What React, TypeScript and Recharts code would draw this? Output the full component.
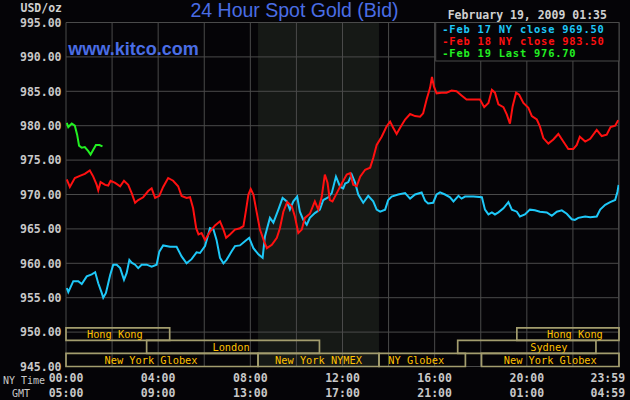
import React from 'react';
import { LineChart, Line, XAxis, YAxis, CartesianGrid, ReferenceArea } from 'recharts';

// minutes after 00:00 NY time, and bid price in USD/oz
const feb17Times = [
  2, 6, 19, 32, 41, 54, 67, 76, 84, 93, 97, 104, 110, 115, 123, 132, 141, 151, 158, 165,
  171, 180, 188, 197, 210, 223, 236, 243, 253, 271, 288, 301, 314, 327, 340, 349, 362, 375, 384, 392,
  401, 410, 418, 431, 440, 453, 466, 477, 488, 501, 512, 518, 531, 540, 553, 564, 575, 583, 592, 602,
  609, 618, 627, 635, 648, 661, 670, 683, 692, 703, 714, 722, 727, 735, 744, 753, 761, 774, 787, 800,
  809, 818, 831, 839, 848, 865, 883, 896, 909, 926, 935, 943, 956, 965, 974, 987, 1000, 1009, 1022, 1030,
  1039, 1061, 1083, 1091, 1100, 1109, 1117, 1126, 1139, 1152, 1161, 1174, 1182, 1195, 1208, 1221, 1234, 1252, 1265, 1278,
  1291, 1304, 1317, 1325, 1334, 1352, 1365, 1382, 1391, 1404, 1417, 1430, 1436, 1439,
];
const feb17Prices = [
  956.4, 955.8, 957.4, 957.4, 957.0, 958.1, 958.4, 958.7, 957.1, 955.7, 955.0, 955.7, 957.1, 958.3, 959.8, 959.8, 959.3, 957.6, 958.6, 960.5,
  960.1, 959.8, 959.3, 959.8, 959.8, 959.5, 959.8, 961.7, 962.6, 962.4, 962.4, 961.0, 960.0, 960.6, 961.6, 961.5, 962.5, 965.1, 964.9, 963.4,
  960.8, 960.0, 960.5, 961.7, 962.5, 962.6, 963.2, 963.7, 962.2, 961.3, 960.8, 963.9, 966.6, 965.9, 967.8, 969.5, 969.0, 967.8, 969.0, 969.7,
  967.5, 966.3, 965.6, 966.6, 967.3, 967.8, 969.2, 969.6, 970.2, 972.6, 971.1, 970.9, 971.6, 971.8, 972.9, 971.7, 970.0, 968.8, 969.8, 969.0,
  967.8, 967.5, 967.8, 969.2, 969.7, 970.0, 970.2, 969.4, 970.0, 970.3, 969.1, 968.7, 968.8, 970.0, 970.3, 970.0, 969.6, 969.0, 969.8, 969.4,
  969.7, 969.7, 969.6, 967.8, 967.1, 967.4, 967.1, 967.4, 968.0, 968.9, 967.8, 967.5, 966.8, 967.1, 967.8, 967.7, 967.5, 967.4, 966.9, 967.5,
  967.7, 967.2, 966.4, 966.3, 966.6, 966.8, 966.7, 966.8, 967.8, 968.5, 968.9, 969.2, 970.4, 971.4,
];

const feb18Times = [
  2, 10, 23, 36, 49, 62, 71, 80, 84, 90, 102, 110, 116, 128, 141, 151, 162, 171, 180, 188,
  201, 214, 223, 232, 243, 253, 266, 279, 292, 301, 314, 323, 331, 339, 345, 353, 362, 375, 388, 401,
  410, 417, 427, 440, 453, 462, 469, 475, 481, 488, 497, 505, 516, 523, 536, 549, 557, 566, 576, 588,
  596, 605, 614, 622, 635, 648, 657, 666, 674, 681, 687, 694, 705, 718, 731, 740, 748, 757, 766, 779,
  792, 800, 809, 822, 835, 844, 852, 861, 870, 883, 896, 909, 922, 930, 939, 948, 953, 958, 965, 978,
  991, 1004, 1017, 1030, 1043, 1061, 1078, 1089, 1100, 1109, 1117, 1126, 1139, 1148, 1156, 1163, 1172, 1180, 1191, 1204,
  1213, 1226, 1234, 1243, 1256, 1269, 1282, 1295, 1308, 1321, 1330, 1338, 1352, 1365, 1382, 1395, 1408, 1418, 1430, 1438,
];
const feb18Prices = [
  972.2, 971.1, 972.4, 972.7, 973.0, 973.5, 972.6, 971.4, 970.6, 971.8, 971.4, 971.3, 972.0, 971.7, 971.2, 972.0, 971.4, 970.2, 968.8, 969.2,
  969.6, 970.5, 970.9, 969.5, 969.8, 971.1, 972.4, 972.0, 971.2, 969.8, 969.5, 969.6, 968.0, 965.1, 964.2, 964.4, 963.4, 964.6, 965.5, 966.1,
  964.9, 963.7, 964.2, 964.9, 965.1, 965.4, 967.8, 970.0, 970.8, 970.0, 967.3, 964.9, 963.2, 962.2, 962.7, 963.7, 965.1, 967.5, 968.9, 968.3,
  966.8, 964.4, 964.9, 966.6, 967.2, 969.0, 967.8, 969.7, 972.9, 971.7, 969.2, 969.0, 970.2, 971.6, 972.9, 973.1, 971.4, 971.2, 972.6, 973.6,
  973.9, 975.3, 977.2, 978.4, 979.9, 980.6, 979.7, 978.8, 979.7, 980.9, 981.7, 981.4, 981.3, 981.8, 983.8, 985.5, 987.1, 985.7, 984.7, 984.8,
  984.8, 985.1, 985.0, 984.4, 983.8, 983.8, 983.8, 982.7, 983.3, 985.2, 984.8, 983.1, 982.7, 981.6, 980.3, 982.8, 984.8, 984.5, 983.3, 982.6,
  981.4, 980.9, 979.9, 978.2, 977.4, 978.0, 978.8, 977.7, 976.6, 976.6, 977.2, 978.4, 977.7, 978.1, 979.4, 978.5, 978.7, 979.8, 980.0, 980.8,
];

const feb19Times = [2, 6, 15, 23, 29, 34, 41, 49, 58, 64, 71, 78, 87, 95];
const feb19Prices = [980.4, 979.8, 980.3, 980.0, 978.7, 977.1, 976.8, 976.9, 976.3, 975.8, 976.5, 977.2, 977.2, 977.0];

const priceTicks = [945, 950, 955, 960, 965, 970, 975, 980, 985, 990, 995];
const timeTicks = [0, 120, 240, 360, 480, 600, 720, 840, 960, 1080, 1200, 1320, 1439];

const legendLines = [
  { text: '-Feb 17 NY close 969.50', color: '#1ec8f8' },
  { text: '-Feb 18 NY close 983.50', color: '#ff1010' },
  { text: '-Feb 19 Last 976.70', color: '#22f022' },
];

// NYMEX pit hours (shaded)
const nymexStart = 500;
const nymexEnd = 815;

// trading sessions: name, start/end minute, row (0 top .. 2 bottom)
const sessionNames = ['Hong Kong', 'Hong Kong', 'London', 'Sydney', 'New York Globex', 'New York NYMEX', 'NY Globex', 'New York Globex'];
const sessionStarts = [0, 1174, 210, 1020, 0, 500, 815, 1082];
const sessionEnds = [270, 1440, 660, 1380, 500, 815, 1040, 1440];
const sessionRows = [0, 0, 1, 1, 2, 2, 2, 2];

// layout only: vertical bands of the session rows and label nudges (px)
const ROW_BANDS: [number, number][] = [[950.6, 948.8], [948.8, 946.9], [946.9, 945.0]];
const LABEL_SHIFT = [-3, 7, -2, 22, -11, 0, -6, 0];

const BG = '#050407';
const GRID = '#4a4a4a';
const MONO = '"DejaVu Sans Mono", monospace';
const SANS = '"Liberation Sans", Arial, sans-serif';
const BLUE = '#4a6de5';

const toRows = (ts: number[], ps: number[]) => ts.map((t, i) => ({ t, p: ps[i] }));
const feb17 = toRows(feb17Times, feb17Prices);
const feb18 = toRows(feb18Times, feb18Prices);
const feb19 = toRows(feb19Times, feb19Prices);

const hhmm = (m: number) => {
  const h = Math.floor(m / 60) % 24;
  const mm = m % 60;
  return `${String(h).padStart(2, '0')}:${String(mm).padStart(2, '0')}`;
};

const TimeTick = (props: any) => {
  const { x, payload } = props;
  const v = payload.value as number;
  if (v % 240 !== 0 && v !== 1439) return <g />;
  const last = v === 1439;
  const tx = last ? x + 6.5 : x;
  const style = { fill: '#c8c8c8', fontFamily: MONO, fontWeight: 700, fontSize: 11.5 };
  return (
    <g>
      <text x={tx} y={382.3} textAnchor={last ? 'end' : 'middle'} {...style}>{hhmm(v)}</text>
      <text x={tx} y={397.3} textAnchor={last ? 'end' : 'middle'} {...style}>{hhmm(v + 300)}</text>
    </g>
  );
};

const PriceTick = (props: any) => {
  const { y, payload } = props;
  return (
    <text x={61.5} y={y + 4.2} textAnchor="end" fill="#c8c8c8" fontFamily={MONO} fontWeight={700} fontSize={11.5}>
      {Number(payload.value).toFixed(2)}
    </text>
  );
};

const SessionLabel = (props: any) => {
  const { viewBox, value, shift } = props;
  if (!viewBox) return null;
  const cx = viewBox.x + viewBox.width / 2 + (shift || 0);
  const cy = viewBox.y + viewBox.height / 2;
  return (
    <text x={cx} y={cy + 3.8} textAnchor="middle" fill="#ffc000" fontFamily={MONO} fontSize={10.3}>
      {value}
    </text>
  );
};

export default function App() {
  return (
    <div style={{ position: 'fixed', left: 0, top: 0, width: 630, height: 400, background: BG, overflow: 'hidden' }}>
      <LineChart width={630} height={400} margin={{ top: 22.5, right: 11, bottom: 0, left: 0 }}>
        <ReferenceArea x1={nymexStart} x2={nymexEnd} y1={945} y2={995} fill="#161916" fillOpacity={1} stroke="none" zIndex={-150} />
        <CartesianGrid stroke={GRID} strokeWidth={1} />
        <XAxis
          type="number"
          dataKey="t"
          domain={[0, 1440]}
          ticks={timeTicks}
          interval={0}
          axisLine={false}
          tickLine={false}
          height={33.5}
          tick={TimeTick}
          allowDataOverflow
        />
        <YAxis
          type="number"
          domain={[945, 995]}
          ticks={priceTicks}
          interval={0}
          axisLine={false}
          tickLine={false}
          width={66}
          tick={PriceTick}
          allowDataOverflow
        />
        {sessionNames.map((name, i) => (
          <ReferenceArea
            key={i}
            x1={sessionStarts[i]}
            x2={sessionEnds[i]}
            y1={ROW_BANDS[sessionRows[i]][0]}
            y2={ROW_BANDS[sessionRows[i]][1]}
            fill="none"
            fillOpacity={0}
            stroke="#a39d6e"
            strokeWidth={1.7}
            ifOverflow="visible"
            label={<SessionLabel value={name} shift={LABEL_SHIFT[i]} />}
          />
        ))}
        <Line data={feb17} dataKey="p" stroke="#1ec8f8" strokeWidth={2} dot={false} isAnimationActive={false} />
        <Line data={feb18} dataKey="p" stroke="#ff1010" strokeWidth={2} dot={false} isAnimationActive={false} />
        <Line data={feb19} dataKey="p" stroke="#22f022" strokeWidth={2} dot={false} isAnimationActive={false} />
      </LineChart>
      <svg width={630} height={400} style={{ position: 'absolute', left: 0, top: 0, pointerEvents: 'none' }}>
        <text x={20.5} y={11.8} fill="#d0d0d0" fontFamily={MONO} fontWeight={700} fontSize={11.5}>USD/oz</text>
        <text x={294.5} y={17} textAnchor="middle" fill={BLUE} fontFamily={SANS} fontSize={19.5}>
          24 Hour Spot Gold (Bid)
        </text>
        <text x={447.7} y={18.5} fill="#d0d0d0" fontFamily={MONO} fontWeight={700} fontSize={11.5}>February 19, 2009 01:35</text>
        <text x={68.3} y={55} fill={BLUE} fontFamily={SANS} fontWeight={700} fontSize={18}>
          www.kitco.com
        </text>
        <rect x={435.7} y={22.5} width={183.3} height={38.5} fill={BG} stroke={GRID} strokeWidth={1} />
        {legendLines.map((l, i) => (
          <text
            key={i}
            x={442.3}
            y={32.8 + i * 12.2}
            fill={l.color}
            fontFamily={MONO}
            fontWeight={700}
            fontSize={10.4}
            letterSpacing={0.8}
          >
            {l.text}
          </text>
        ))}
        <text x={3} y={383.5} fill="#c8c8c8" fontFamily={MONO} fontSize={10}>NY Time</text>
        <text x={12} y={396.5} fill="#c8c8c8" fontFamily={MONO} fontSize={10}>GMT</text>
      </svg>
    </div>
  );
}
